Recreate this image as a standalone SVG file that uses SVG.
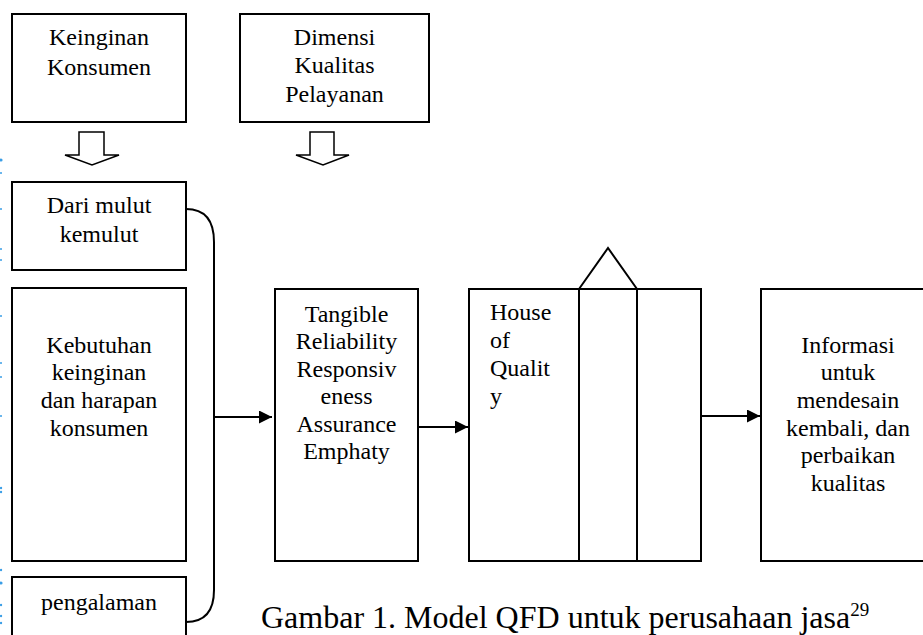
<svg xmlns="http://www.w3.org/2000/svg" width="923" height="635" viewBox="0 0 923 635">
  <defs>
    <style>
      .box { fill: #ffffff; stroke: #000000; stroke-width: 2; }
      .line { fill: none; stroke: #000000; stroke-width: 2; }
      .hollow { fill: #ffffff; stroke: #000000; stroke-width: 1.5; stroke-linejoin: miter; }
      .t { font-family: "Liberation Serif", "Times New Roman", serif; font-size: 24px; fill: #000000; }
      .c { text-anchor: middle; }
      .cap { font-family: "Liberation Serif", "Times New Roman", serif; font-size: 32px; fill: #000000; }
      .dot { fill: #3a9ee6; }
    </style>
    <marker id="arr" viewBox="0 0 13 13" refX="13" refY="6.5" markerWidth="13" markerHeight="13" markerUnits="userSpaceOnUse" orient="auto">
      <path d="M0,0 L13,6.5 L0,13 Z" fill="#000000"/>
    </marker>
  </defs>
  <rect width="923" height="635" fill="#ffffff"/>

  <g id="scan-marks">
    <circle class="dot" cx="1" cy="160" r="1.6"/>
    <circle class="dot" cx="1" cy="173" r="1"/>
    <circle class="dot" cx="1" cy="209" r="1"/>
    <circle class="dot" cx="1" cy="249" r="1"/>
    <circle class="dot" cx="1" cy="260" r="1"/>
    <circle class="dot" cx="1" cy="316" r="1"/>
    <circle class="dot" cx="1" cy="363" r="1"/>
    <circle class="dot" cx="1" cy="377" r="1"/>
    <circle class="dot" cx="1" cy="416" r="1"/>
    <circle class="dot" cx="1" cy="488" r="1.2"/>
    <circle class="dot" cx="1" cy="492" r="1.2"/>
    <circle class="dot" cx="1" cy="570" r="1.2"/>
    <circle class="dot" cx="1" cy="583" r="1.6"/>
    <circle class="dot" cx="1" cy="605" r="1.2"/>
    <circle class="dot" cx="1" cy="616" r="1.2"/>
    <circle class="dot" cx="1" cy="623" r="1.2"/>
  </g>

  <g id="keinginan-konsumen">
    <rect class="box" x="12" y="14" width="174" height="108"/>
    <text class="t c" x="99" y="45">Keinginan</text>
    <text class="t c" x="99" y="75">Konsumen</text>
  </g>

  <g id="dimensi-kualitas">
    <rect class="box" x="240" y="14" width="189" height="108"/>
    <text class="t c" x="334.5" y="45">Dimensi</text>
    <text class="t c" x="334.5" y="73">Kualitas</text>
    <text class="t c" x="334.5" y="102">Pelayanan</text>
  </g>

  <g id="dari-mulut">
    <rect class="box" x="12" y="182" width="174" height="88"/>
    <text class="t c" x="99" y="213">Dari mulut</text>
    <text class="t c" x="99" y="242">kemulut</text>
  </g>

  <g id="kebutuhan">
    <rect class="box" x="12" y="288" width="174" height="273"/>
    <text class="t c" x="99" y="353">Kebutuhan</text>
    <text class="t c" x="99" y="380">keinginan</text>
    <text class="t c" x="99" y="408">dan harapan</text>
    <text class="t c" x="99" y="436">konsumen</text>
  </g>

  <g id="pengalaman">
    <rect class="box" x="12" y="577" width="174" height="70"/>
    <text class="t c" x="99" y="610">pengalaman</text>
  </g>

  <g id="dimensi-list">
    <rect class="box" x="275" y="289" width="143" height="272"/>
    <text class="t c" x="346.5" y="322">Tangible</text>
    <text class="t c" x="346.5" y="349">Reliability</text>
    <text class="t c" x="346.5" y="377">Responsiv</text>
    <text class="t c" x="346.5" y="404">eness</text>
    <text class="t c" x="346.5" y="432">Assurance</text>
    <text class="t c" x="346.5" y="459">Emphaty</text>
  </g>

  <g id="house-of-quality">
    <rect class="box" x="469" y="289" width="232" height="272"/>
    <line class="line" x1="579" y1="289" x2="579" y2="561"/>
    <line class="line" x1="637" y1="289" x2="637" y2="561"/>
    <polyline class="line" points="579,289 608,248 637,289"/>
    <text class="t" x="490" y="320">House</text>
    <text class="t" x="490" y="348">of</text>
    <text class="t" x="490" y="376">Qualit</text>
    <text class="t" x="490" y="404">y</text>
  </g>

  <g id="informasi">
    <rect class="box" x="761" y="289" width="180" height="272"/>
    <text class="t c" x="848" y="353">Informasi</text>
    <text class="t c" x="848" y="380">untuk</text>
    <text class="t c" x="848" y="408">mendesain</text>
    <text class="t c" x="848" y="436">kembali, dan</text>
    <text class="t c" x="848" y="463">perbaikan</text>
    <text class="t c" x="848" y="491">kualitas</text>
  </g>

  <g id="connectors">
    <polygon class="hollow" points="79,132 104,132 104,155 119,155 92,165 65,155 79,155"/>
    <polygon class="hollow" points="310,132 334,132 334,155 349,155 323,165 296,155 310,155"/>
    <path class="line" d="M186,209 C206,209 214,222 214,242 L214,590 C214,610 206,622 186,622"/>
    <line class="line" x1="214" y1="417" x2="272" y2="417" marker-end="url(#arr)"/>
    <line class="line" x1="418" y1="427" x2="468" y2="427" marker-end="url(#arr)"/>
    <line class="line" x1="701" y1="416" x2="760" y2="416" marker-end="url(#arr)"/>
  </g>

  <g id="caption">
    <text class="cap" x="261" y="628">Gambar 1. Model QFD untuk perusahaan jasa<tspan font-size="19" dy="-12">29</tspan></text>
  </g>
</svg>
